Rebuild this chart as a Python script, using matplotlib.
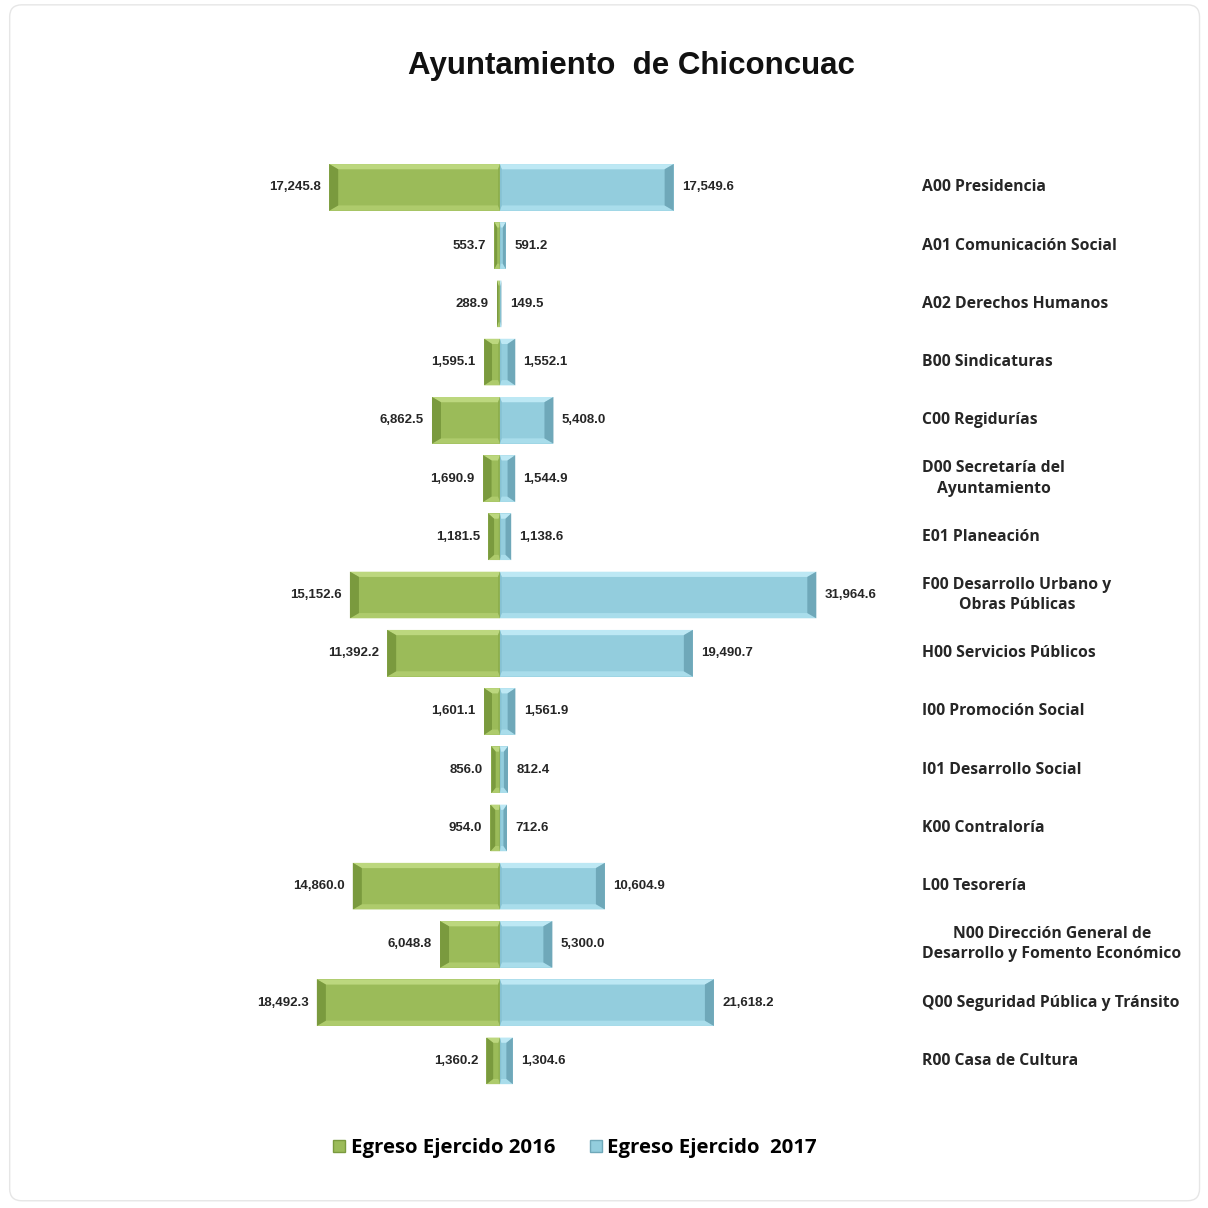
import matplotlib.pyplot as plt
from matplotlib.patches import Polygon, Rectangle, FancyBboxPatch
from matplotlib.lines import Line2D
import numpy as np

# data
departments = [
    "A00 Presidencia",
    "A01 Comunicación Social",
    "A02 Derechos Humanos",
    "B00 Sindicaturas",
    "C00 Regidurías",
    "D00 Secretaría del\nAyuntamiento",
    "E01 Planeación",
    "F00 Desarrollo Urbano y\nObras Públicas",
    "H00 Servicios Públicos",
    "I00 Promoción Social",
    "I01 Desarrollo Social",
    "K00 Contraloría",
    "L00 Tesorería",
    "N00 Dirección General de\nDesarrollo y Fomento Económico",
    "Q00 Seguridad Pública y Tránsito",
    "R00 Casa de Cultura",
]
egreso_2016 = [17245.8, 553.7, 288.9, 1595.1, 6862.5, 1690.9, 1181.5, 15152.6,
               11392.2, 1601.1, 856.0, 954.0, 14860.0, 6048.8, 18492.3, 1360.2]
egreso_2017 = [17549.6, 591.2, 149.5, 1552.1, 5408.0, 1544.9, 1138.6, 31964.6,
               19490.7, 1561.9, 812.4, 712.6, 10604.9, 5300.0, 21618.2, 1304.6]

label_2016 = "Egreso Ejercido 2016"
label_2017 = "Egreso Ejercido  2017"
title = "Ayuntamiento  de Chiconcuac"

green = dict(face="#9BBB59", top="#BCD77E", bottom="#AECB6C", end="#7A9A3E", outer="#8DAE4C")
blue = dict(face="#93CDDD", top="#BDE8F4", bottom="#A9DDEB", end="#6FA8B9", outer="#86C1D2")

fig = plt.figure(figsize=(12.08, 12.08), dpi=100)
fig.patches.append(FancyBboxPatch((0.008, 0.006), 0.985, 0.99, boxstyle="round,pad=0,rounding_size=0.01",
                                  transform=fig.transFigure, facecolor="white",
                                  edgecolor="#E6E6E6", linewidth=1.0, zorder=-10))

ax = fig.add_axes([0.1926, 0.0977, 0.549, 0.7713])
ax.set_xlim(-27000, 40000)
ax.set_ylim(15.5, -0.5)
ax.axis("off")

h = 0.8
bev_y = 0.09
px = 101.0  # data units per pixel (approx)


def bevel_bar(y, v, side, c):
    # side = -1 for left, +1 for right
    x0, x1 = 0, side * v
    bx = min(v / 2.0, 9 * px) * side
    yt, yb = y - h / 2, y + h / 2
    ax.add_patch(Rectangle((min(x0, x1), yt), v, h, facecolor=c["face"], edgecolor="none", zorder=2))
    # top strip
    ax.add_patch(Polygon([(x0, yt), (x1, yt), (x1 - bx, yt + bev_y), (x0 + bx * 0.2, yt + bev_y)],
                         closed=True, facecolor=c["top"], edgecolor="none", zorder=3))
    # bottom strip
    ax.add_patch(Polygon([(x0, yb), (x1, yb), (x1 - bx, yb - bev_y), (x0 + bx * 0.2, yb - bev_y)],
                         closed=True, facecolor=c["bottom"], edgecolor="none", zorder=3))
    # outer end
    ax.add_patch(Polygon([(x1, yt), (x1, yb), (x1 - bx, yb - bev_y), (x1 - bx, yt + bev_y)],
                         closed=True, facecolor=c["end"], edgecolor="none", zorder=3))
    # inner end (at centre)
    ax.add_patch(Polygon([(x0, yt), (x0, yb), (x0 + bx * 0.2, yb - bev_y), (x0 + bx * 0.2, yt + bev_y)],
                         closed=True, facecolor=c["outer"], edgecolor="none", zorder=3))


num_font = dict(fontsize=9.5, fontweight="bold", family=["Liberation Sans", "DejaVu Sans"],
                fontstretch="condensed", color="#262626")

ys = np.arange(len(departments))
for y, v16, v17 in zip(ys, egreso_2016, egreso_2017):
    bevel_bar(y, v16, -1, green)
    bevel_bar(y, v17, 1, blue)
    ax.annotate(f"{v16:,.1f}", (-v16, y), xytext=(-6, 0), textcoords="offset points",
                ha="right", va="center", **num_font)
    ax.annotate(f"{v17:,.1f}", (v17, y), xytext=(6, 0), textcoords="offset points",
                ha="left", va="center", **num_font)
    ax.annotate(departments[y], (40000, y), xytext=(19, 0), textcoords="offset points",
                ha="left", va="center", multialignment="center", fontsize=11.3,
                fontweight="bold", family=["Open Sans", "DejaVu Sans"], color="#262626",
                linespacing=1.35)

fig.text(0.523, 0.945, title, ha="center", va="center", fontsize=22.5, fontweight="bold",
         family=["Liberation Sans", "DejaVu Sans"], color="#111111")

handles = [Line2D([], [], marker="s", linestyle="none", markersize=8, markerfacecolor=green["face"],
                  markeredgecolor=green["end"]),
           Line2D([], [], marker="s", linestyle="none", markersize=8, markerfacecolor=blue["face"],
                  markeredgecolor=blue["end"])]
fig.legend(handles, [label_2016, label_2017], loc="center", bbox_to_anchor=(0.476, 0.0495), ncol=2,
           frameon=False, handlelength=0.6, handletextpad=0.25, columnspacing=1.7,
           prop=dict(family=["Open Sans", "DejaVu Sans"], weight="bold", size=14.7))

fig.savefig("out.png", dpi=100, facecolor="white")
